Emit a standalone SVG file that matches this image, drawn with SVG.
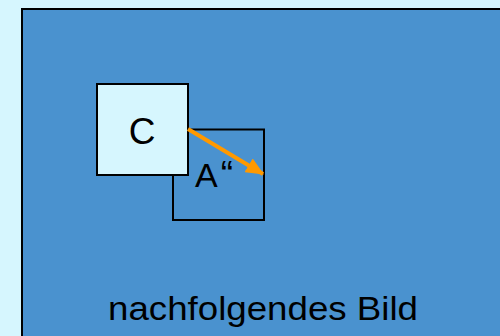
<svg xmlns="http://www.w3.org/2000/svg" width="500" height="336" viewBox="0 0 500 336">
<defs>
<style>
.t{font-family:"Liberation Sans",Arial,sans-serif;fill:#000}
.box{stroke:#000;stroke-width:2}
</style>
<marker id="ah" markerWidth="4.5" markerHeight="4" refX="4.2" refY="2" orient="auto" markerUnits="strokeWidth">
<path d="M0,0 L4.5,2 L0,4 Z" fill="#ff9900"/>
</marker>
</defs>
<rect x="0" y="0" width="500" height="336" fill="#d6f6fe"/>
<g id="frame">
<rect x="22" y="9" width="500" height="340" fill="#4a92cf" stroke="#000" stroke-width="2"/>
<text class="t" x="108" y="320" font-size="32.5" textLength="310" lengthAdjust="spacingAndGlyphs">nachfolgendes Bild</text>
</g>
<g id="A2">
<rect class="box" x="173" y="129.5" width="91" height="90.5" fill="none"/>
<text class="t" x="195" y="187" font-size="34">A<tspan dx="3" font-size="37">“</tspan></text>
</g>
<g id="C">
<rect class="box" x="97" y="84" width="91" height="91" fill="#d6f6fe"/>
<text class="t" x="142" y="143.5" font-size="37" text-anchor="middle">C</text>
</g>
<g id="connectors">
<line x1="188" y1="129" x2="263" y2="174" stroke="#ff9900" stroke-width="4" marker-end="url(#ah)"/>
</g>
</svg>
